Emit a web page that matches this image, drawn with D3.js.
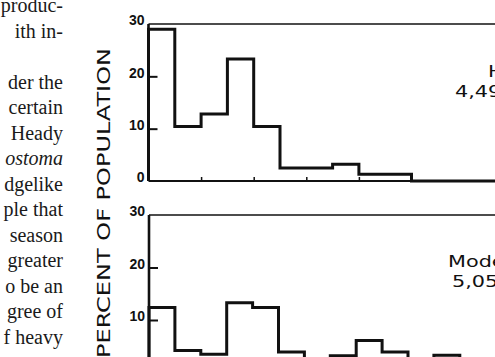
<!DOCTYPE html>
<html>
<head>
<meta charset="utf-8">
<script src="https://cdn.jsdelivr.net/npm/d3@7"></script>
<style>
  body { margin: 0; background: #fff; }
  svg { display: block; }
</style>
</head>
<body>
<div id="chart"></div>
<script>
// percent of population per size class (right side is cut off)
var heavyValues = [29, 10.4, 12.8, 23.3, 10.4, 2.5, 2.5, 3.2, 1.3, 1.3, 0, 0, 0, 0, 0, 0]
var moderateValues = [12.4, 4.2, 3.5, 13.3, 12.4, 3.9, 2.5, 3.2, 6.1, 3.9, 2.0, 3.3, 2.0, 2.0, 2.0, 2.0]
var yTicks = [0, 10, 20, 30]
var xTicks = [2, 4, 6, 8]
var heavyLabel = ['Heavy', '4,49']
var moderateLabel = ['Moderate', '5,05']
var axisTitle = 'PERCENT OF POPULATION'

// column of body text to the left of the figure
var textLines = [
    { t: 'produc-', k: 0 },
    { t: 'ith  in-', k: 1 },
    { t: 'der the', k: 3 },
    { t: 'certain', k: 4 },
    { t: 'Heady', k: 5 },
    { t: 'ostoma', k: 6, italic: true },
    { t: 'dgelike', k: 7 },
    { t: 'ple that', k: 8 },
    { t: 'season', k: 9 },
    { t: 'greater', k: 10 },
    { t: 'o be an', k: 11 },
    { t: 'gree of', k: 12 },
    { t: 'f heavy', k: 13 }
]

var W = 495, H = 357
var ink = '#111'

var svg = d3.select('#chart').append('svg')
    .attr('width', W)
    .attr('height', H)
svg.append('rect').attr('width', W).attr('height', H).attr('fill', '#fff')

// body text
svg.append('g').selectAll('text')
    .data(textLines)
    .join('text')
    .attr('x', 63)
    .attr('y', d => 12 + d.k * 25.5)
    .attr('text-anchor', 'end')
    .attr('font-family', '"Liberation Serif", serif')
    .attr('font-size', 20)
    .attr('font-style', d => d.italic ? 'italic' : 'normal')
    .attr('fill', '#1a1a1a')
    .text(d => d.t)

// y axis title
svg.append('text')
    .attr('transform', 'translate(110,358) rotate(-90)')
    .attr('font-family', '"DejaVu Sans", sans-serif')
    .attr('font-size', 17)
    .attr('textLength', 310)
    .attr('lengthAdjust', 'spacingAndGlyphs')
    .attr('fill', ink)
    .text(axisTitle)

function drawPanel(vals, x0, binW, yBottom, yTop, label, labelPos) {
    var n = vals.length
    var x = d3.scaleLinear().domain([0, n]).range([x0, x0 + n * binW])
    var y = d3.scaleLinear().domain([0, 30]).range([yBottom, yTop])
    var g = svg.append('g')

    // y ticks point inward, labels sit just above the tick
    var yAxis = d3.axisLeft(y).tickValues(yTicks).tickSize(-9).tickPadding(4)
    var ga = g.append('g').attr('transform', 'translate(' + x0 + ',0)').call(yAxis)
    ga.select('.domain').remove()
    ga.selectAll('.tick line')
        .attr('stroke', ink).attr('stroke-width', 2)
        .attr('display', d => (d === 0 || d === 30) ? 'none' : null)
    ga.selectAll('.tick text')
        .attr('dy', '0.05em')
        .attr('font-family', '"Liberation Sans", Arial, sans-serif')
        .attr('font-weight', 'bold')
        .attr('font-size', 14)
        .attr('fill', ink)

    // x ticks on the baseline, pointing up
    var xAxis = d3.axisBottom(x).tickValues(xTicks).tickSize(-4).tickFormat('')
    var gx = g.append('g').attr('transform', 'translate(0,' + y(0) + ')').call(xAxis)
    gx.select('.domain').remove()
    gx.selectAll('.tick line').attr('stroke', ink).attr('stroke-width', 1.5)

    // frame: top line, baseline, left axis
    g.append('line')
        .attr('x1', x0).attr('x2', x(n))
        .attr('y1', y(30)).attr('y2', y(30))
        .attr('stroke', ink).attr('stroke-width', 1.6)
    g.append('line')
        .attr('x1', x0).attr('x2', x(n))
        .attr('y1', y(0)).attr('y2', y(0))
        .attr('stroke', ink).attr('stroke-width', 2)
    g.append('line')
        .attr('x1', x0).attr('x2', x0)
        .attr('y1', y(30)).attr('y2', y(0))
        .attr('stroke', ink).attr('stroke-width', 2.6)

    // histogram outline as steps
    var pts = [[0, 0]]
    vals.forEach((v, i) => { pts.push([i, v]); pts.push([i + 1, v]) })
    pts.push([n, 0])
    var line = d3.line().x(d => x(d[0])).y(d => y(d[1]))
    g.append('path')
        .attr('d', line(pts))
        .attr('fill', 'none')
        .attr('stroke', ink)
        .attr('stroke-width', 3)
        .attr('stroke-linejoin', 'miter')

    // panel label (cut off by the page edge)
    g.selectAll('.plabel')
        .data(label)
        .join('text')
        .attr('class', 'plabel')
        .attr('transform', (d, i) => 'translate(' + labelPos[i][0] + ',' + labelPos[i][1] + ') scale(1.3,1)')
        .attr('font-family', '"DejaVu Sans", sans-serif')
        .attr('font-size', 16)
        .attr('fill', ink)
        .text(d => d)
}

drawPanel(heavyValues, 148.5, 26.3, 181, 24, heavyLabel, [[488, 77], [455, 97]])
drawPanel(moderateValues, 149, 25.9, 372.5, 215, moderateLabel, [[448, 267], [452, 287]])
</script>
</body>
</html>
